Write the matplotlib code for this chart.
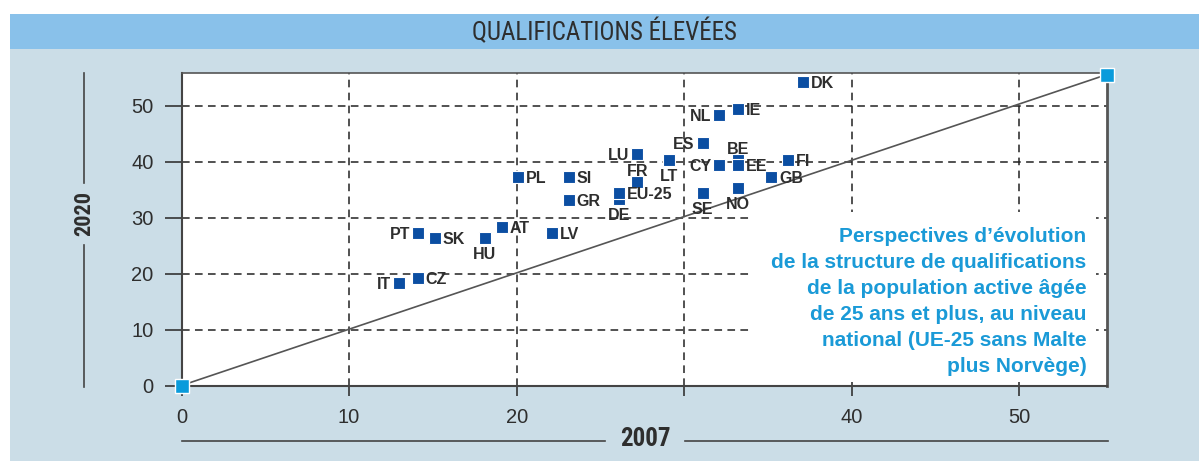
import matplotlib
matplotlib.use("Agg")
import matplotlib.pyplot as plt
from matplotlib.patches import Rectangle
from matplotlib.lines import Line2D
from matplotlib import font_manager

plt.rcParams['font.family'] = ['Liberation Sans', 'DejaVu Sans']

# ---------------- data ----------------
countries = ['DK', 'IE', 'NL', 'ES', 'LU', 'LT', 'BE', 'CY', 'EE', 'FI', 'GB', 'NO', 'SE',
             'FR', 'DE', 'EU-25', 'PL', 'SI', 'GR', 'AT', 'LV', 'HU', 'PT', 'SK', 'CZ', 'IT']
x2007 = [37.1, 33.2, 32.1, 31.1, 27.2, 29.1, 33.2, 32.1, 33.2, 36.2, 35.2, 33.2, 31.1,
         27.2, 26.1, 26.1, 20.1, 23.1, 23.1, 19.1, 22.1, 18.1, 14.1, 15.1, 14.1, 13.0]
y2020 = [54.3, 49.4, 48.3, 43.3, 41.4, 40.3, 40.4, 39.4, 39.4, 40.3, 37.3, 35.4, 34.4,
         36.4, 33.4, 34.4, 37.3, 37.3, 33.2, 28.3, 27.2, 26.3, 27.2, 26.3, 19.2, 18.3]
label_side = ['r', 'r', 'l', 'l', 'l', 'b', 't', 'l', 'r', 'r', 'r', 'b', 'b',
              't', 'b', 'r', 'r', 'r', 'r', 'r', 'r', 'b', 'l', 'r', 'r', 'l']
diag_x = [0, 55.2]
diag_y = [0, 55.6]
xticks = [0, 10, 20, 30, 40, 50]
xticklabels = ['0', '10', '20', '', '40', '50']
yticks = [0, 10, 20, 30, 40, 50]
yticklabels = ['0', '10', '20', '30', '40', '50']
title = 'QUALIFICATIONS ÉLEVÉES'
xlabel = '2007'
ylabel = '2020'
note = ("Perspectives d’évolution\nde la structure de qualifications\n"
        "de la population active âgée\nde 25 ans et plus, au niveau\n"
        "national (UE-25 sans Malte\nplus Norvège)")

# ---------------- style ----------------
W, H = 1199, 461
PANEL = '#CBDDE7'
BAR = '#89C1EA'
MARK = '#0B4EA2'
CORNER = '#0A9BDB'
TXT = '#2E2E2E'
NOTE = '#1A9AD7'


def find_condensed(bold=False):
    preferred = ['Liberation Sans Narrow', 'Roboto Condensed', 'Open Sans Condensed',
                 'DejaVu Sans', 'Open Sans', 'Noto Sans', 'Roboto']
    best = None
    for f in font_manager.fontManager.ttflist:
        st = str(f.stretch).lower()
        is_cond = ('narrow' in f.name.lower() or 'condensed' in f.name.lower()
                   or st in ('condensed', 'semi-condensed', 'extra-condensed')
                   or (isinstance(f.stretch, int) and f.stretch < 500)
                   or 'condensed' in f.fname.lower() or 'narrow' in f.fname.lower())
        if not is_cond or f.style != 'normal':
            continue
        w = f.weight if isinstance(f.weight, int) else (700 if 'bold' in str(f.weight) else 400)
        if bold != (w >= 600):
            continue
        base = f.name
        rank = len(preferred)
        for i, p in enumerate(preferred):
            if base.startswith(p):
                rank = i
                break
        if best is None or rank < best[0]:
            best = (rank, f.fname)
    if best is None:
        return None
    return font_manager.FontProperties(fname=best[1])


cond_regular = find_condensed(False)
cond_bold = find_condensed(True)

fig = plt.figure(figsize=(W / 100, H / 100), dpi=100, facecolor='white')


def fx(px):
    return px / W


def fy(py):
    return 1 - py / H


# background panels
fig.add_artist(Rectangle((fx(10), 0), 1 - fx(10), fy(49), transform=fig.transFigure,
                         facecolor=PANEL, edgecolor='none', zorder=0))
fig.add_artist(Rectangle((fx(10), fy(49)), 1 - fx(10), fy(14) - fy(49), transform=fig.transFigure,
                         facecolor=BAR, edgecolor='none', zorder=0))

if cond_regular is not None:
    fp = cond_regular.copy()
    fp.set_size(18)
    fig.text(fx(604), fy(31.5), title, ha='center', va='center', fontproperties=fp, color=TXT)
else:
    fig.text(fx(604), fy(31.5), title, ha='center', va='center', fontsize=15.5, color=TXT)

ax = fig.add_axes([fx(181.5), fy(385.5), fx(1106.5) - fx(181.5), fy(73) - fy(385.5)])
ax.set_facecolor('white')
ax.set_xlim(0, 55.2)
ax.set_ylim(0, 55.9)

ax.set_xticks(xticks)
ax.set_xticklabels(xticklabels)
ax.set_yticks(yticks)
ax.set_yticklabels(yticklabels)
ax.tick_params(axis='x', direction='out', length=7, width=1.2, color='#333', pad=9,
               labelsize=14.5, labelcolor=TXT)
ax.tick_params(axis='y', direction='out', length=12, width=1.2, color='#333', pad=8,
               labelsize=14.5, labelcolor=TXT)

ax.grid(True, color='#222222', linestyle=(0, (5, 3.5)), linewidth=1.1, zorder=0.5)
ax.set_axisbelow(True)

for side, lw, col in [('left', 1.5, '#444'), ('bottom', 1.5, '#444'),
                      ('right', 2.0, '#555'), ('top', 1.2, '#555')]:
    ax.spines[side].set_linewidth(lw)
    ax.spines[side].set_color(col)

# white box behind the note (hides grid)
ax.add_patch(Rectangle((34.1, 0.6), 20.5, 30.4, facecolor='white', edgecolor='none', zorder=1.5))

ax.plot(diag_x, diag_y, color='#555555', lw=1.2, zorder=2, clip_on=False)
ax.plot(x2007, y2020, 's', ms=8, mfc=MARK, mec='white', mew=0.8, zorder=3, ls='none')
ax.plot(diag_x, diag_y, 's', ms=10, mfc=CORNER, mec='white', mew=1, zorder=5,
        ls='none', clip_on=False)

offsets = {'r': ((8, 0), 'left'), 'l': ((-8, 0), 'right'),
           'b': ((0, -15), 'center'), 't': ((0, 12), 'center')}
for name, xv, yv, side in zip(countries, x2007, y2020, label_side):
    off, ha = offsets[side]
    ax.annotate(name, (xv, yv), xytext=off, textcoords='offset pixels', ha=ha,
                va='center_baseline', fontsize=11.5, fontweight='bold', color=TXT, zorder=4)

ax.text(54.0, 15.0, note, ha='right', va='center', multialignment='right', fontsize=15,
        fontweight='bold', color=NOTE, linespacing=1.47, zorder=4)

# axis titles with rules
if cond_bold is not None:
    fpb = cond_bold.copy()
    fpb.set_size(16)
    fig.text(fx(84), fy(214), ylabel, rotation=90, ha='center', va='center',
             fontproperties=fpb, color=TXT)
    fpx = cond_bold.copy()
    fpx.set_size(18)
    fig.text(fx(645), fy(439), xlabel, ha='center', va='center', fontproperties=fpx, color=TXT)
else:
    fig.text(fx(84), fy(214), ylabel, rotation=90, ha='center', va='center', fontsize=14,
             fontweight='bold', color=TXT)
    fig.text(fx(645), fy(439), xlabel, ha='center', va='center', fontsize=15,
             fontweight='bold', color=TXT)
fig.add_artist(Line2D([fx(84), fx(84)], [fy(73), fy(183)], color='#444', lw=1.2))
fig.add_artist(Line2D([fx(84), fx(84)], [fy(245), fy(387)], color='#444', lw=1.2))
fig.add_artist(Line2D([fx(182), fx(605)], [fy(441), fy(441)], color='#444', lw=1.2))
fig.add_artist(Line2D([fx(685), fx(1108)], [fy(441), fy(441)], color='#444', lw=1.2))

fig.savefig('out.png', dpi=100, facecolor='white')
